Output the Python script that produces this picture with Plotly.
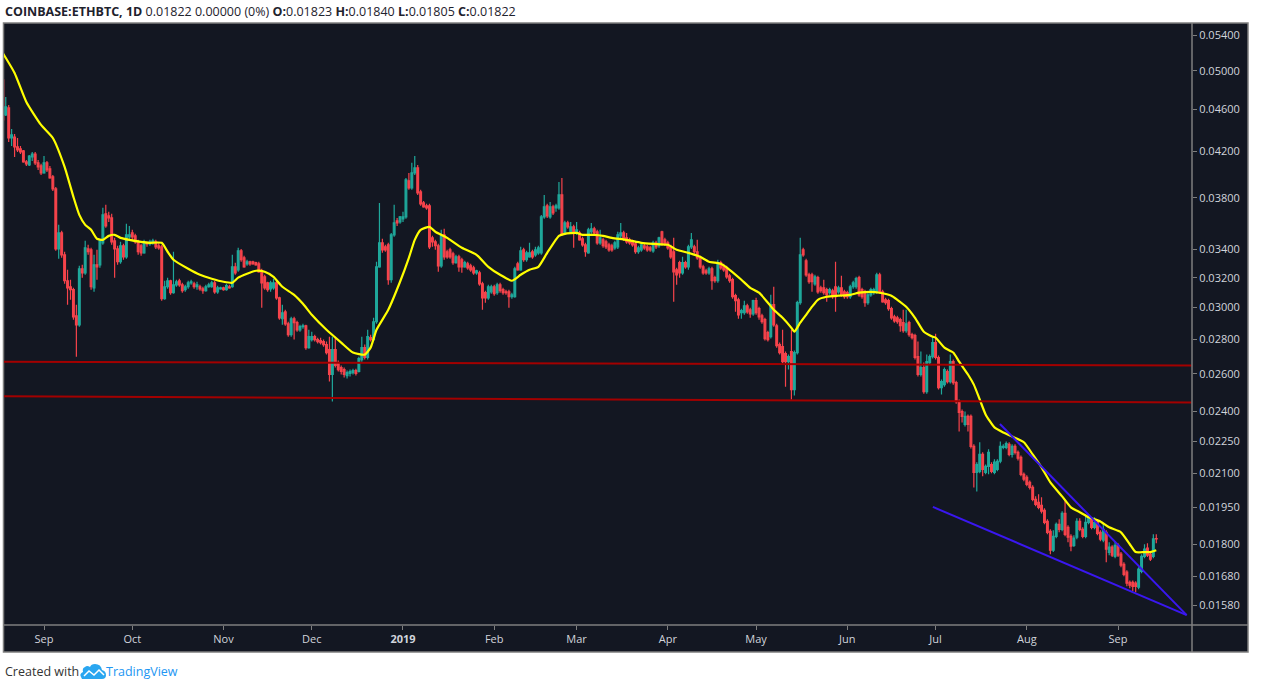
import pandas as pd
import plotly.graph_objects as go

# ETH/BTC daily candles on Coinbase, one per day from the start date.
# Prices are in units of 1e-5 BTC (4901 -> 0.04901)
start_date = "2018-08-18"

open_e5 = [
    4901, 4545, 4614, 4325, 4334, 4242, 4224, 4206, 4107, 4081,
    4151, 4178, 4099, 4072, 4011, 4099, 4046, 3977, 3875, 3405,
    3524, 3362, 3179, 3138, 3118, 2948, 2891, 3262, 3234, 3405,
    3398, 3131, 3290, 3290, 3450, 3672, 3656, 3640, 3465, 3405,
    3312, 3428, 3347, 3495, 3524, 3502, 3457, 3428, 3376, 3450,
    3442, 3450, 3457, 3428, 3420, 3058, 3138, 3179, 3098, 3151,
    3179, 3151, 3118, 3138, 3165, 3158, 3138, 3138, 3124, 3111,
    3138, 3138, 3165, 3104, 3124, 3131, 3118, 3138, 3138, 3276,
    3255, 3391, 3340, 3297, 3312, 3312, 3305, 3297, 3248, 3206,
    3165, 3124, 3131, 3165, 3064, 2929, 2973, 2897, 2830, 2929,
    2904, 2860, 2879, 2885, 2752, 2800, 2818, 2800, 2794, 2788,
    2770, 2740, 2597, 2740, 2665, 2636, 2625, 2591, 2603, 2608,
    2619, 2614, 2682, 2752, 2694, 2812, 2800, 2910, 3276, 3450,
    3420, 3435, 3186, 3510, 3617, 3609, 3633, 3648, 3943, 3884,
    4011, 4054, 3850, 3760, 3736, 3736, 3487, 3457, 3428, 3283,
    3510, 3384, 3398, 3369, 3305, 3347, 3326, 3276, 3297, 3283,
    3269, 3234, 3234, 3158, 3098, 3064, 3104, 3138, 3098, 3151,
    3118, 3104, 3104, 3071, 3071, 3297, 3255, 3398, 3326, 3347,
    3384, 3362, 3376, 3376, 3648, 3736, 3648, 3728, 3720, 3720,
    3825, 3524, 3601, 3533, 3571, 3524, 3524, 3480, 3435, 3376,
    3533, 3556, 3533, 3450, 3472, 3457, 3435, 3428, 3413, 3420,
    3502, 3524, 3487, 3472, 3457, 3442, 3384, 3398, 3428, 3420,
    3413, 3391, 3450, 3428, 3533, 3472, 3450, 3420, 3384, 3255,
    3305, 3234, 3305, 3276, 3420, 3420, 3384, 3340, 3276, 3248,
    3234, 3262, 3200, 3179, 3305, 3283, 3269, 3213, 3186, 3078,
    3051, 2967, 2967, 3012, 2986, 2960, 3045, 2993, 2948, 2923,
    2842, 2818, 3019, 2885, 2770, 2758, 2717, 2670, 2729, 2514,
    2723, 3032, 3398, 3319, 3220, 3220, 3158, 3200, 3131, 3131,
    3118, 3098, 3111, 3138, 3104, 3131, 3104, 3098, 3071, 3138,
    3138, 3200, 3118, 3104, 3032, 3084, 3098, 3104, 3220, 3104,
    3051, 3045, 2993, 2941, 2935, 2923, 2904, 2854, 2904, 2830,
    2824, 2699, 2597, 2636, 2503, 2665, 2699, 2782, 2694, 2525,
    2541, 2614, 2558, 2670, 2552, 2450, 2398, 2332, 2373, 2373,
    2224, 2103, 2108, 2186, 2103, 2130, 2139, 2103, 2117, 2154,
    2219, 2219, 2234, 2186, 2224, 2196, 2172, 2094, 2081, 2058,
    2036, 1984, 1971, 1959, 1938, 1892, 1852, 1778, 1832, 1880,
    1860, 1925, 1868, 1832, 1797, 1829, 1892, 1860, 1832, 1888,
    1901, 1868, 1888, 1848, 1817, 1848, 1770, 1790, 1755, 1797,
    1763, 1725, 1696, 1659, 1659, 1656, 1642, 1699, 1755, 1786,
    1763, 1755, 1823,
]

high_e5 = [
    4922, 4725, 4644, 4410, 4362, 4325, 4251, 4215, 4125, 4169,
    4197, 4197, 4125, 4090, 4160, 4116, 4072, 3994, 3892, 3586,
    3540, 3384, 3255, 3186, 3131, 3019, 3283, 3290, 3465, 3435,
    3413, 3362, 3398, 3472, 3720, 3744, 3688, 3672, 3487, 3428,
    3457, 3442, 3594, 3578, 3548, 3517, 3472, 3442, 3472, 3457,
    3472, 3480, 3472, 3450, 3435, 3179, 3200, 3186, 3384, 3186,
    3193, 3165, 3151, 3179, 3186, 3172, 3172, 3151, 3138, 3151,
    3165, 3179, 3179, 3145, 3138, 3138, 3158, 3151, 3362, 3305,
    3413, 3405, 3355, 3326, 3319, 3319, 3312, 3312, 3262, 3220,
    3172, 3179, 3193, 3179, 3071, 3019, 2986, 2910, 2941, 2941,
    2916, 2891, 2897, 2891, 2860, 2848, 2830, 2812, 2812, 2800,
    2788, 2818, 2818, 2818, 2676, 2648, 2636, 2619, 2625, 2630,
    2630, 2699, 2818, 2770, 2860, 2830, 2935, 3312, 3760, 3480,
    3435, 3450, 3524, 3744, 3640, 3656, 3688, 3968, 4011, 4099,
    4160, 4081, 3867, 3776, 3752, 3752, 3502, 3472, 3442, 3548,
    3556, 3398, 3413, 3384, 3362, 3362, 3340, 3319, 3312, 3297,
    3283, 3255, 3248, 3172, 3111, 3151, 3151, 3151, 3165, 3165,
    3131, 3118, 3118, 3098, 3276, 3312, 3420, 3413, 3391, 3450,
    3398, 3420, 3428, 3664, 3825, 3752, 3768, 3744, 3752, 3934,
    3968, 3617, 3617, 3609, 3586, 3609, 3540, 3495, 3450, 3563,
    3601, 3571, 3548, 3548, 3487, 3472, 3450, 3442, 3465, 3533,
    3601, 3540, 3524, 3487, 3472, 3457, 3428, 3450, 3442, 3435,
    3428, 3465, 3465, 3495, 3540, 3487, 3465, 3435, 3487, 3269,
    3319, 3347, 3319, 3435, 3524, 3435, 3472, 3355, 3290, 3262,
    3276, 3276, 3213, 3326, 3319, 3297, 3283, 3227, 3200, 3091,
    3064, 2993, 3045, 3025, 2999, 3051, 3064, 3006, 2960, 2935,
    2854, 3084, 3138, 2897, 2782, 2860, 2729, 2711, 2860, 2735,
    3045, 3487, 3413, 3333, 3234, 3234, 3220, 3213, 3145, 3186,
    3131, 3131, 3124, 3312, 3145, 3213, 3118, 3111, 3151, 3179,
    3206, 3213, 3131, 3118, 3098, 3131, 3131, 3234, 3234, 3118,
    3064, 3058, 3006, 2954, 2948, 2935, 2986, 2986, 2916, 2842,
    2836, 2788, 2729, 2665, 2711, 2711, 2812, 2836, 2705, 2569,
    2636, 2625, 2711, 2682, 2563, 2461, 2408, 2398, 2383, 2383,
    2234, 2150, 2244, 2196, 2139, 2210, 2150, 2163, 2163, 2248,
    2234, 2248, 2244, 2234, 2234, 2205, 2181, 2103, 2090, 2067,
    2045, 1997, 2006, 1993, 1946, 1901, 1860, 1856, 1888, 1901,
    1934, 1984, 1876, 1840, 1836, 1905, 1905, 1868, 1913, 1921,
    1909, 1909, 1901, 1856, 1884, 1856, 1809, 1797, 1813, 1805,
    1771, 1733, 1703, 1666, 1666, 1663, 1714, 1763, 1801, 1805,
    1771, 1840, 1840,
]

low_e5 = [
    4486, 4535, 4288, 4251, 4151, 4197, 4178, 4099, 4072, 4072,
    4116, 4081, 4037, 3994, 4003, 4020, 3960, 3858, 3391, 3333,
    3340, 3158, 3019, 3051, 2923, 2699, 2879, 3200, 3220, 3362,
    3118, 3104, 3186, 3269, 3435, 3563, 3609, 3435, 3200, 3290,
    3297, 3326, 3333, 3472, 3472, 3442, 3362, 3355, 3369, 3420,
    3428, 3435, 3405, 3398, 3045, 3051, 3124, 3084, 3091, 3138,
    3138, 3098, 3104, 3124, 3151, 3124, 3118, 3111, 3091, 3104,
    3131, 3131, 3091, 3091, 3118, 3111, 3111, 3124, 3131, 3220,
    3241, 3312, 3269, 3283, 3283, 3290, 3283, 3234, 2999, 3118,
    3104, 3104, 3118, 3051, 2923, 2891, 2885, 2818, 2818, 2800,
    2848, 2848, 2866, 2740, 2746, 2788, 2788, 2776, 2770, 2758,
    2711, 2558, 2450, 2636, 2614, 2597, 2580, 2575, 2586, 2597,
    2591, 2608, 2670, 2682, 2682, 2788, 2794, 2897, 3269, 3376,
    3384, 3151, 3165, 3495, 3578, 3594, 3609, 3633, 3867, 3867,
    3994, 3825, 3736, 3720, 3704, 3405, 3420, 3398, 3241, 3269,
    3326, 3333, 3333, 3290, 3297, 3241, 3234, 3269, 3255, 3241,
    3220, 3220, 3145, 2986, 3032, 3051, 3091, 3078, 3084, 3098,
    3084, 3084, 2999, 3058, 3064, 3248, 3248, 3312, 3312, 3340,
    3333, 3347, 3362, 3362, 3633, 3640, 3633, 3664, 3688, 3704,
    3502, 3510, 3556, 3517, 3413, 3510, 3465, 3420, 3347, 3369,
    3517, 3510, 3435, 3435, 3413, 3405, 3384, 3384, 3398, 3405,
    3472, 3465, 3442, 3435, 3420, 3369, 3369, 3384, 3398, 3384,
    3384, 3376, 3405, 3413, 3428, 3428, 3398, 3333, 3038, 3151,
    3200, 3220, 3262, 3255, 3405, 3369, 3326, 3262, 3220, 3220,
    3220, 3118, 3165, 3165, 3255, 3241, 3193, 3165, 3058, 2973,
    2929, 2929, 2954, 2960, 2935, 2948, 2954, 2923, 2897, 2794,
    2788, 2806, 2879, 2752, 2711, 2659, 2530, 2625, 2461, 2482,
    2711, 3019, 3347, 3206, 3158, 3104, 3145, 3091, 3098, 3084,
    3038, 3084, 3058, 2973, 3091, 3071, 3058, 3058, 3058, 3124,
    3124, 3071, 3058, 3006, 3019, 3071, 3084, 3091, 3091, 3032,
    3019, 2980, 2923, 2904, 2897, 2848, 2842, 2842, 2818, 2800,
    2682, 2586, 2586, 2492, 2492, 2653, 2688, 2682, 2514, 2487,
    2530, 2547, 2547, 2541, 2439, 2297, 2342, 2322, 2297, 2214,
    2036, 2018, 2099, 2085, 2094, 2094, 2099, 2094, 2108, 2145,
    2210, 2210, 2177, 2172, 2186, 2158, 2085, 2063, 2041, 2027,
    1976, 1955, 1942, 1925, 1880, 1840, 1763, 1771, 1825, 1848,
    1852, 1832, 1809, 1774, 1790, 1821, 1852, 1825, 1825, 1880,
    1860, 1860, 1836, 1813, 1809, 1733, 1759, 1752, 1748, 1752,
    1714, 1681, 1645, 1638, 1628, 1624, 1635, 1692, 1748, 1752,
    1737, 1748, 1805,
]

close_e5 = [
    4496, 4624, 4325, 4353, 4242, 4215, 4197, 4107, 4090, 4160,
    4178, 4099, 4064, 4011, 4099, 4037, 3968, 3875, 3405, 3524,
    3362, 3179, 3131, 3118, 2941, 2891, 3262, 3234, 3413, 3384,
    3138, 3290, 3276, 3465, 3664, 3578, 3640, 3457, 3405, 3312,
    3428, 3347, 3510, 3510, 3495, 3457, 3384, 3376, 3450, 3442,
    3457, 3465, 3420, 3413, 3058, 3138, 3179, 3098, 3151, 3172,
    3151, 3111, 3138, 3165, 3172, 3138, 3151, 3124, 3111, 3138,
    3151, 3165, 3104, 3131, 3131, 3118, 3145, 3131, 3276, 3234,
    3391, 3326, 3276, 3312, 3297, 3297, 3290, 3241, 3165, 3131,
    3118, 3165, 3165, 3064, 2935, 2967, 2897, 2830, 2929, 2904,
    2860, 2879, 2885, 2752, 2818, 2818, 2800, 2788, 2782, 2770,
    2723, 2597, 2740, 2648, 2625, 2614, 2597, 2608, 2614, 2619,
    2603, 2688, 2752, 2694, 2818, 2800, 2910, 3276, 3450, 3398,
    3398, 3186, 3510, 3601, 3601, 3648, 3648, 3951, 3884, 4011,
    4054, 3842, 3752, 3728, 3720, 3420, 3457, 3428, 3283, 3510,
    3347, 3347, 3347, 3305, 3347, 3276, 3276, 3305, 3269, 3255,
    3234, 3248, 3158, 3064, 3064, 3138, 3138, 3091, 3151, 3111,
    3098, 3098, 3071, 3084, 3262, 3255, 3391, 3326, 3376, 3376,
    3347, 3398, 3413, 3648, 3728, 3656, 3728, 3680, 3736, 3825,
    3517, 3601, 3571, 3571, 3524, 3548, 3472, 3435, 3384, 3548,
    3556, 3524, 3450, 3487, 3428, 3420, 3398, 3398, 3450, 3510,
    3524, 3480, 3457, 3450, 3435, 3384, 3413, 3435, 3413, 3398,
    3398, 3450, 3420, 3487, 3442, 3442, 3413, 3347, 3241, 3220,
    3234, 3305, 3276, 3420, 3472, 3384, 3340, 3276, 3234, 3234,
    3262, 3179, 3179, 3305, 3269, 3255, 3206, 3179, 3071, 3045,
    2954, 2980, 3012, 2973, 2960, 3045, 2967, 2941, 2910, 2806,
    2800, 3019, 2891, 2764, 2723, 2670, 2670, 2699, 2514, 2723,
    3032, 3362, 3362, 3220, 3172, 3172, 3206, 3104, 3111, 3098,
    3084, 3118, 3071, 3071, 3131, 3084, 3071, 3071, 3138, 3165,
    3193, 3084, 3071, 3032, 3084, 3118, 3118, 3220, 3104, 3038,
    3032, 2993, 2935, 2916, 2910, 2885, 2854, 2897, 2830, 2812,
    2694, 2597, 2636, 2503, 2670, 2699, 2782, 2694, 2525, 2558,
    2625, 2558, 2670, 2552, 2450, 2393, 2373, 2373, 2332, 2224,
    2103, 2139, 2186, 2117, 2130, 2196, 2108, 2150, 2154, 2224,
    2224, 2238, 2186, 2224, 2196, 2168, 2094, 2072, 2049, 2036,
    1984, 1963, 1950, 1934, 1888, 1848, 1778, 1832, 1880, 1860,
    1925, 1840, 1829, 1794, 1825, 1892, 1860, 1832, 1888, 1905,
    1868, 1888, 1844, 1821, 1860, 1782, 1790, 1759, 1797, 1759,
    1722, 1688, 1656, 1649, 1645, 1645, 1707, 1755, 1782, 1759,
    1744, 1822, 1822,
]

# yellow moving average, every few days (day offset from start_date)
ma_day = [
    0, 4, 8, 13, 17, 21, 24, 26, 28, 30, 32, 34, 36, 38, 40, 43, 47, 50, 54, 56,
    58, 63, 67, 71, 75, 78, 80, 83, 86, 89, 92, 95, 99, 102, 105, 110, 115, 119, 123, 125,
    127, 131, 135, 138, 140, 142, 145, 147, 151, 156, 161, 165, 169, 173, 176, 179, 182, 185, 189, 191,
    195, 197, 201, 204, 207, 212, 217, 221, 226, 229, 233, 237, 240, 244, 247, 251, 254, 257, 260, 262,
    265, 268, 269, 271, 273, 275, 277, 280, 284, 288, 291, 295, 298, 302, 304, 307, 310, 313, 316, 317,
    320, 323, 325, 328, 330, 332, 334, 337, 340, 343, 347, 350, 353, 356, 360, 363, 366, 369, 373, 376,
    380, 383, 385, 388, 390, 392,
]
ma_e5 = [
    5194, 4976, 4674, 4448, 4325, 4064, 3809, 3664, 3586, 3548, 3480, 3472, 3502, 3510, 3487, 3472, 3457, 3450, 3450, 3384,
    3326, 3262, 3220, 3193, 3172, 3165, 3200, 3227, 3248, 3241, 3206, 3138, 3084, 3025, 2954, 2860, 2782, 2723, 2711, 2752,
    2860, 2986, 3172, 3340, 3472, 3548, 3571, 3533, 3487, 3413, 3362, 3276, 3220, 3179, 3220, 3255, 3276, 3376, 3502, 3517,
    3524, 3510, 3510, 3502, 3487, 3472, 3450, 3442, 3435, 3398, 3376, 3347, 3312, 3297, 3255, 3186, 3131, 3098, 3032, 2986,
    2935, 2872, 2848, 2904, 2954, 3006, 3051, 3071, 3078, 3084, 3098, 3104, 3098, 3078, 3051, 3006, 2935, 2848, 2818, 2812,
    2752, 2723, 2670, 2597, 2541, 2461, 2383, 2317, 2292, 2272, 2244, 2186, 2126, 2058, 1997, 1950, 1930, 1909, 1892, 1868,
    1848, 1801, 1771, 1771, 1771, 1778,
]

# drawings: red support zone and blue falling wedge
support_dates = ["2018-08-18", "2019-09-26"]
support_upper = [0.02670, 0.02648]
support_lower = [0.02478, 0.02445]
wedge_top_dates = ["2019-07-22 21:00", "2019-09-24 08:00"]
wedge_top = [0.02334, 0.01546]
wedge_bottom_dates = ["2019-06-30 02:00", "2019-09-24 08:00"]
wedge_bottom = [0.01952, 0.01546]

price_ticks = [0.054, 0.050, 0.046, 0.042, 0.038, 0.034, 0.032, 0.030, 0.028,
               0.026, 0.024, 0.0225, 0.021, 0.0195, 0.018, 0.0168, 0.0158]
month_ticks = ["2018-09-01", "2018-10-01", "2018-11-01", "2018-12-01", "2019-01-01",
               "2019-02-01", "2019-03-01", "2019-04-01", "2019-05-01", "2019-06-01",
               "2019-07-01", "2019-08-01", "2019-09-01"]
month_labels = ["Sep", "Oct", "Nov", "Dec", "<b>2019</b>", "Feb", "Mar", "Apr",
                "May", "Jun", "Jul", "Aug", "Sep"]

candles = pd.DataFrame({
    "open": open_e5, "high": high_e5, "low": low_e5, "close": close_e5,
}) / 1e5
candles["date"] = pd.date_range(start_date, periods=len(candles), freq="D")

ma = pd.DataFrame({"day": ma_day, "value": ma_e5})
ma["date"] = pd.Timestamp(start_date) + pd.to_timedelta(ma["day"], unit="D")
ma["value"] = ma["value"] / 1e5

UP = "#1fa89b"
DOWN = "#f6434b"
BG = "#131722"
FRAME = "#7f7f7f"
TEXT = "#d1d4dc"

fig = go.Figure()
fig.add_trace(go.Candlestick(
    x=candles["date"], open=candles["open"], high=candles["high"],
    low=candles["low"], close=candles["close"],
    increasing=dict(line=dict(color=UP, width=1.2), fillcolor=UP),
    decreasing=dict(line=dict(color=DOWN, width=1.2), fillcolor=DOWN),
    whiskerwidth=0, hoverinfo="skip", showlegend=False))

fig.add_trace(go.Scatter(
    x=ma["date"], y=ma["value"], mode="lines",
    line=dict(color="#ffff00", width=2.2, shape="spline", smoothing=0.5),
    hoverinfo="skip", showlegend=False))

for ys in (support_upper, support_lower):
    fig.add_trace(go.Scatter(x=support_dates, y=ys, mode="lines",
                             line=dict(color="#a30000", width=2),
                             hoverinfo="skip", showlegend=False))

fig.add_trace(go.Scatter(x=wedge_top_dates, y=wedge_top, mode="lines",
                         line=dict(color="#3a17f0", width=2),
                         hoverinfo="skip", showlegend=False))
fig.add_trace(go.Scatter(x=wedge_bottom_dates, y=wedge_bottom, mode="lines",
                         line=dict(color="#3a17f0", width=2),
                         hoverinfo="skip", showlegend=False))

# header text built from the last candle
last = candles.iloc[-1]
prev_close = candles["close"].iloc[-2]
change = last["close"] - prev_close
header = (f"<b>COINBASE:ETHBTC, 1D</b> {last['close']:.5f} {abs(change):.5f} "
          f"({change / prev_close * 100:.0f}%) <b>O:</b>{last['open']:.5f} "
          f"<b>H:</b>{last['high']:.5f} <b>L:</b>{last['low']:.5f} <b>C:</b>{last['close']:.5f}")

# pixel geometry of the frame (plot area is 1188 x 602 px)
pw, ph = 1188.0, 602.0
fx0, fx1 = -0.5 / pw, 1244.0 / pw
fy0 = -27.0 / ph

fig.update_layout(
    width=1265, height=683,
    margin=dict(l=4, r=73, t=23, b=58),
    paper_bgcolor="white", plot_bgcolor=BG,
    font=dict(family="Open Sans, sans-serif"),
    boxgap=0.15,
    xaxis=dict(type="date", range=["2018-08-18 09:44", "2019-09-26 03:20"],
               rangeslider=dict(visible=False), showgrid=False, zeroline=False,
               tickvals=month_ticks, ticktext=month_labels,
               ticks="outside", ticklen=4, tickcolor=FRAME,
               tickfont=dict(color=TEXT, size=11), showline=False),
    yaxis=dict(type="log", range=[-1.82007, -1.25637], side="right",
               showgrid=False, zeroline=False,
               tickvals=price_ticks, ticktext=[f"{v:.5f}" for v in price_ticks],
               ticks="outside", ticklen=4, tickcolor=FRAME,
               tickfont=dict(color=TEXT, size=11), showline=False),
    shapes=[
        dict(type="rect", xref="paper", yref="paper", x0=fx0, x1=fx1, y0=fy0, y1=1,
             fillcolor=BG, line=dict(color=FRAME, width=1.5), layer="below"),
        dict(type="line", xref="paper", yref="paper", x0=1, x1=1, y0=fy0, y1=1,
             line=dict(color=FRAME, width=1.5)),
        dict(type="line", xref="paper", yref="paper", x0=fx0, x1=fx1, y0=0, y1=0,
             line=dict(color=FRAME, width=1.5)),
        # small TradingView cloud logo
        dict(type="path", xref="paper", yref="paper", xsizemode="pixel", ysizemode="pixel",
             xanchor=77.0 / pw, yanchor=-54.0 / ph,
             path="M1,0 L21,0 Q25,0 25,4 Q25,8 21,9 Q20,15 14,15 Q10,15 9,12 "
                  "Q6,14 4,12 Q1,11 2,7 Q-2,5 0,2 Z",
             fillcolor="#2aa6f0", line=dict(width=0)),
        dict(type="path", xref="paper", yref="paper", xsizemode="pixel", ysizemode="pixel",
             xanchor=77.0 / pw, yanchor=-54.0 / ph,
             path="M3,3 L8,8 L13,4 L18,9 L23,4",
             line=dict(color="white", width=1.5)),
    ],
    annotations=[
        dict(xref="paper", yref="paper", x=-1.0 / pw, y=1 + 11.0 / ph,
             xanchor="left", yanchor="middle", showarrow=False,
             text=header, font=dict(size=12.5, color="#1e222d")),
        dict(xref="paper", yref="paper", x=-1.0 / pw, y=-46.0 / ph,
             xanchor="left", yanchor="middle", showarrow=False,
             text="Created with", font=dict(size=12.5, color="#333333")),
        dict(xref="paper", yref="paper", x=100.0 / pw, y=-46.0 / ph,
             xanchor="left", yanchor="middle", showarrow=False,
             text="TradingView", font=dict(size=12.5, color="#2196f3")),
    ],
)

# drop the browser's default page margin so the figure sits at the window corner
fig.write_html("out.html", config={"displayModeBar": False},
               post_script="document.body.style.margin='0px';")
